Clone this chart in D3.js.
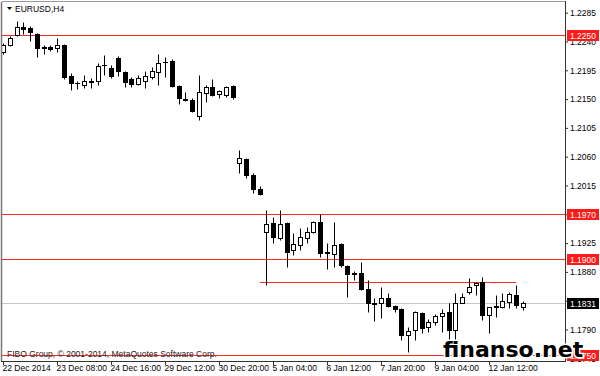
<!DOCTYPE html>
<html>
<head>
<meta charset="utf-8">
<script src="https://cdnjs.cloudflare.com/ajax/libs/d3/7.8.5/d3.min.js"></script>
<style>
body { margin: 0; background: #fff; }
svg { display: block; font-family: "Liberation Sans", Arial, sans-serif; }
</style>
</head>
<body>
<div id="chart"></div>
<script>
// chart data
let symbol = "EURUSD,H4";
let copyright = "FIBO Group, \u00a9 2001-2014, MetaQuotes Software Corp.";
let timeTickBars = [0, 8, 16, 24, 32, 40, 48, 56, 64, 72];
let timeLabels = ["22 Dec 2014", "23 Dec 08:00", "24 Dec 16:00", "29 Dec 12:00", "30 Dec 20:00",
                  "5 Jan 04:00", "6 Jan 12:00", "7 Jan 20:00", "9 Jan 04:00", "12 Jan 12:00"];
let priceTicks = [1.2285, 1.2240, 1.2195, 1.2150, 1.2105, 1.2060, 1.2015, 1.1970, 1.1925, 1.1880, 1.1835, 1.1790, 1.1745];

let opens = [1.2224, 1.2235, 1.2250, 1.2263, 1.2261, 1.2252, 1.2231, 1.2231, 1.2230, 1.2235,
             1.2186, 1.2175, 1.2172, 1.2177, 1.2178, 1.2203, 1.2199, 1.2214, 1.2192, 1.2181,
             1.2174, 1.2178, 1.2184, 1.2192, 1.2208, 1.2209, 1.2170, 1.2150, 1.2149, 1.2124,
             1.2160, 1.2169, 1.2158, 1.2156, 1.2170,
             1.2050, 1.2056, 1.2031, 1.2010, 1.1942,
             1.1956, 1.1933, 1.1956, 1.1914, 1.1922, 1.1933, 1.1942, 1.1958, 1.1910, 1.1908,
             1.1924, 1.1889, 1.1877, 1.1878, 1.1853, 1.1831, 1.1831, 1.1839, 1.1827, 1.1822,
             1.1781, 1.1789, 1.1816, 1.1794, 1.1802, 1.1811, 1.1817, 1.1789, 1.1831, 1.1849,
             1.1860, 1.1864, 1.1813, 1.1825, 1.1825, 1.1833, 1.1844, 1.1825];
let highs = [1.2238, 1.2249, 1.2272, 1.2270, 1.2264, 1.2253, 1.2235, 1.2235, 1.2245, 1.2236,
             1.2191, 1.2178, 1.2188, 1.2183, 1.2206, 1.2219, 1.2203, 1.2217, 1.2194, 1.2184,
             1.2188, 1.2194, 1.2200, 1.2220, 1.2216, 1.2212, 1.2172, 1.2161, 1.2152, 1.2188,
             1.2172, 1.2181, 1.2164, 1.2170, 1.2172,
             1.2070, 1.2058, 1.2034, 1.2014, 1.1977,
             1.1966, 1.1977, 1.1958, 1.1941, 1.1949, 1.1950, 1.1960, 1.1970, 1.1925, 1.1958,
             1.1925, 1.1891, 1.1881, 1.1895, 1.1867, 1.1839, 1.1856, 1.1847, 1.1828, 1.1824,
             1.1794, 1.1819, 1.1817, 1.1806, 1.1814, 1.1822, 1.1831, 1.1847, 1.1847, 1.1870,
             1.1864, 1.1872, 1.1825, 1.1844, 1.1847, 1.1849, 1.1860, 1.1835];
let lows = [1.2220, 1.2233, 1.2249, 1.2252, 1.2241, 1.2216, 1.2220, 1.2225, 1.2224, 1.2181,
            1.2164, 1.2166, 1.2167, 1.2167, 1.2172, 1.2188, 1.2183, 1.2186, 1.2169, 1.2169,
            1.2172, 1.2167, 1.2181, 1.2172, 1.2184, 1.2169, 1.2142, 1.2147, 1.2130, 1.2117,
            1.2145, 1.2155, 1.2152, 1.2153, 1.2150,
            1.2034, 1.2027, 1.2003, 1.2000, 1.1860,
            1.1925, 1.1930, 1.1888, 1.1906, 1.1914, 1.1925, 1.1941, 1.1903, 1.1885, 1.1888,
            1.1888, 1.1841, 1.1867, 1.1852, 1.1817, 1.1803, 1.1808, 1.1825, 1.1817, 1.1774,
            1.1755, 1.1774, 1.1784, 1.1786, 1.1797, 1.1786, 1.1774, 1.1774, 1.1831, 1.1846,
            1.1844, 1.1805, 1.1784, 1.1809, 1.1824, 1.1824, 1.1824, 1.1820];
let closes = [1.2235, 1.2245, 1.2263, 1.2260, 1.2255, 1.2230, 1.2230, 1.2228, 1.2235, 1.2184,
              1.2175, 1.2175, 1.2178, 1.2178, 1.2202, 1.2203, 1.2186, 1.2194, 1.2177, 1.2174,
              1.2183, 1.2186, 1.2194, 1.2206, 1.2208, 1.2170, 1.2152, 1.2149, 1.2131, 1.2161,
              1.2169, 1.2156, 1.2163, 1.2169, 1.2153,
              1.2058, 1.2031, 1.2010, 1.2002, 1.1955,
              1.1935, 1.1955, 1.1911, 1.1924, 1.1935, 1.1942, 1.1958, 1.1910, 1.1911, 1.1922,
              1.1891, 1.1877, 1.1878, 1.1853, 1.1831, 1.1830, 1.1839, 1.1827, 1.1822, 1.1781,
              1.1788, 1.1817, 1.1792, 1.1802, 1.1811, 1.1816, 1.1789, 1.1831, 1.1841, 1.1856,
              1.1863, 1.1813, 1.1825, 1.1826, 1.1835, 1.1846, 1.1828, 1.1831];

let levels = [1.2250, 1.1970, 1.1900, 1.1750];   // red horizontal lines
let bidPrice = 1.1831;
let trendPrice = 1.1864, trendFrom = 38.1, trendTo = 76;   // short red line

let width = 600, height = 376;
let plotLeft = 2, plotRight = 566, plotTop = 2, plotBottom = 361;

let bars = opens.map((o, i) => ({ i: i, o: o, h: highs[i], l: lows[i], c: closes[i] }));

let xScale = d3.scaleLinear().domain([0, 72]).rangeRound([3, 489]);
let yScale = d3.scaleLinear().domain([1.1745, 1.2285]).range([358.3, 12.7]);
let py = (p) => Math.round(yScale(p)) + 0.5;

let svg = d3.select("#chart").append("svg")
    .attr("width", width)
    .attr("height", height);

svg.append("defs").append("clipPath").attr("id", "plot")
    .append("rect").attr("x", plotLeft).attr("y", plotTop)
    .attr("width", plotRight - plotLeft).attr("height", plotBottom - plotTop);

let plot = svg.append("g").attr("clip-path", "url(#plot)");

// bid line
plot.append("line")
    .attr("x1", plotLeft).attr("x2", plotRight)
    .attr("y1", py(bidPrice)).attr("y2", py(bidPrice))
    .attr("stroke", "#c8c8c8");

// levels
plot.selectAll("line.level").data(levels).join("line")
    .attr("class", "level")
    .attr("x1", plotLeft).attr("x2", plotRight)
    .attr("y1", (d) => py(d)).attr("y2", (d) => py(d))
    .attr("stroke", "#ff2a2a");

plot.append("line")
    .attr("x1", xScale(trendFrom)).attr("x2", xScale(trendTo))
    .attr("y1", py(trendPrice)).attr("y2", py(trendPrice))
    .attr("stroke", "#ff2a2a");

// candles
let candle = plot.selectAll("g.bar").data(bars).join("g").attr("class", "bar");

candle.append("line")
    .attr("x1", (d) => xScale(d.i) + 0.5).attr("x2", (d) => xScale(d.i) + 0.5)
    .attr("y1", (d) => py(d.h)).attr("y2", (d) => py(d.l))
    .attr("stroke", "#000");

candle.each(function (d) {
    let g = d3.select(this);
    let yTop = py(Math.max(d.o, d.c)), yBot = py(Math.min(d.o, d.c));
    let cx = xScale(d.i);
    if (yBot - yTop < 1) {
        g.append("line")
            .attr("x1", cx - 2).attr("x2", cx + 3)
            .attr("y1", yTop).attr("y2", yTop)
            .attr("stroke", "#000");
    } else {
        g.append("rect")
            .attr("x", cx - 1.5).attr("width", 4)
            .attr("y", yTop).attr("height", yBot - yTop)
            .attr("fill", d.c > d.o ? "#fff" : "#000")
            .attr("stroke", "#000");
    }
});

// frame
svg.append("line").attr("x1", 1.5).attr("x2", 1.5).attr("y1", plotTop).attr("y2", plotBottom).attr("stroke", "#777").attr("stroke-width", 1.5);
svg.append("line").attr("x1", plotLeft).attr("x2", plotRight).attr("y1", 1.5).attr("y2", 1.5).attr("stroke", "#999");
svg.append("line").attr("x1", 565.5).attr("x2", 565.5).attr("y1", 1).attr("y2", 362).attr("stroke", "#333");
svg.append("line").attr("x1", 1).attr("x2", 566).attr("y1", 361.5).attr("y2", 361.5).attr("stroke", "#333");

// axes; labels that sit fully under a price tag are not drawn
let tagPrices = levels.concat([bidPrice]);
let hidden = (p) => tagPrices.some((t) => Math.abs(yScale(t) - yScale(p)) < 3);

let yAxis = d3.axisRight(yScale)
    .tickValues(priceTicks)
    .tickSize(3)
    .tickPadding(2)
    .tickFormat((d) => hidden(d) ? "" : d3.format(".4f")(d));

svg.append("g")
    .attr("transform", "translate(565,0)")
    .call(yAxis)
    .call((g) => g.select(".domain").remove())
    .call((g) => g.selectAll("text").attr("font-size", "8.5px").attr("fill", "#000").attr("font-family", null))
    .call((g) => g.selectAll("line").attr("stroke", "#333"));

let xAxis = d3.axisBottom(xScale)
    .tickValues(timeTickBars)
    .tickSize(4)
    .tickSizeOuter(0)
    .tickPadding(0)
    .tickFormat((d, i) => timeLabels[i]);

svg.append("g")
    .attr("transform", "translate(0,361)")
    .call(xAxis)
    .call((g) => g.select(".domain").remove())
    .call((g) => g.selectAll("text").attr("text-anchor", "start").attr("x", -1)
        .attr("font-size", "8.5px").attr("fill", "#000").attr("font-family", null))
    .call((g) => g.selectAll("line").attr("stroke", "#333"));

// price tags
let tags = levels.map((p) => ({ p: p, bg: "#ff1a1a" })).concat([{ p: bidPrice, bg: "#000" }]);
let tag = svg.selectAll("g.tag").data(tags).join("g").attr("class", "tag")
    .attr("transform", (d) => `translate(567,${Math.round(yScale(d.p))})`);
tag.append("rect").attr("x", 0).attr("y", -5).attr("width", 32).attr("height", 11).attr("fill", (d) => d.bg);
tag.append("text").attr("x", 3).attr("y", 3.5).attr("fill", "#fff").attr("font-size", "8.5px")
    .text((d) => d3.format(".4f")(d.p));

// title
svg.append("path").attr("d", "M7,7L12,7L9.5,10Z").attr("fill", "#000");
svg.append("text").attr("x", 15).attr("y", 12).attr("font-size", "8.5px").attr("fill", "#000").text(symbol);

svg.append("text").attr("x", 7).attr("y", 357).attr("font-size", "8.5px").attr("fill", "#222").text(copyright);

// watermark
svg.append("text")
    .attr("x", 443).attr("y", 357)
    .attr("font-family", "DejaVu Sans")
    .attr("font-weight", "bold")
    .attr("font-size", "22px")
    .attr("fill", "#000")
    .attr("stroke", "#fff")
    .attr("stroke-width", 3)
    .attr("paint-order", "stroke")
    .text("finanso.net");
</script>
</body>
</html>
